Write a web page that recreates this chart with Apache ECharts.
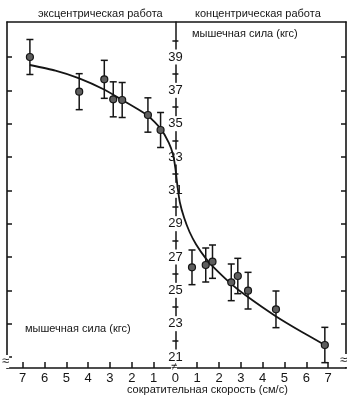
<!DOCTYPE html>
<html>
<head>
<meta charset="utf-8">
<style>
    html, body { margin: 0; padding: 0; background: #fff; }
    #chart { width: 354px; height: 401px; }
</style>
<script src="https://cdn.jsdelivr.net/npm/echarts@6/dist/echarts.min.js"></script>
</head>
<body>
<div id="chart"></div>
<script>
    // eccentric work (negative speed, drawn on the left)
    const eccSpeed = [-6.67, -4.41, -3.26, -2.85, -2.44, -1.26, -0.68];
    const eccForce = [39.0, 36.92, 37.66, 36.46, 36.42, 35.52, 34.62];
    const eccErr = [1.05, 1.08, 1.14, 1.05, 1.05, 1.03, 1.05];

    // concentric work
    const conSpeed = [0.76, 1.39, 1.70, 2.56, 2.86, 3.33, 4.61, 6.85];
    const conForce = [26.38, 26.52, 26.72, 25.48, 25.86, 24.98, 23.86, 21.72];
    const conErr = [1.04, 1.02, 1.0, 1.1, 1.06, 1.1, 1.1, 1.06];

    // fitted curve
    const curveSpeed = [-6.67, -5.5, -4.41, -3.27, -2.44, -1.26, -0.68, -0.3, -0.1, 0, 0.1, 0.2, 0.4, 0.65, 0.95, 1.4, 1.7, 2.5, 3.2, 4.6, 5.8, 6.85];
    const curveForce = [38.52, 38.18, 37.72, 37.05, 36.42, 35.48, 34.7, 33.85, 33.1, 32.3, 31.2, 30.3, 29.35, 28.5, 27.75, 26.9, 26.45, 25.45, 24.72, 23.45, 22.5, 21.72];

    const speedTicks = [-7, -6, -5, -4, -3, -2, -1, 0, 1, 2, 3, 4, 5, 6, 7];
    const forceLabels = [21, 23, 25, 27, 29, 31, 33, 35, 37, 39];
    const forceMinorTicks = [22, 24, 26, 28, 30, 32, 34, 36, 38, 40];

    const myChart = echarts.init(document.getElementById('chart'), null, { renderer: 'canvas' });

    const points = [];
    const bars = [];
    eccSpeed.forEach((x, i) => {
        points.push([x, eccForce[i]]);
        bars.push([x, eccForce[i] - eccErr[i], eccForce[i] + eccErr[i]]);
    });
    conSpeed.forEach((x, i) => {
        points.push([x, conForce[i]]);
        bars.push([x, conForce[i] - conErr[i], conForce[i] + conErr[i]]);
    });
    const curve = curveSpeed.map((x, i) => [x, curveForce[i]]);

    const ink = '#151515';
    const font = 'Liberation Sans, Arial, sans-serif';
    const gridLeft = 7;
    const frameAxis = {
        type: 'value',
        min: 20.34,
        max: 41.1,
        axisLine: { show: true, onZero: false, lineStyle: { color: ink, width: 1.6 } },
        axisTick: { show: true, inside: true, length: 5, customValues: forceLabels, lineStyle: { color: ink, width: 1.5 } },
        axisLabel: { show: false },
        splitLine: { show: false }
    };

    const chartOption = {
        animation: false,
        backgroundColor: '#fff',
        grid: { left: gridLeft, right: 8, top: 22, bottom: 33, outerBoundsMode: 'none' },
        xAxis: [
            {
                type: 'value',
                min: -7.72,
                max: 7.82,
                position: 'bottom',
                axisLine: { onZero: false, lineStyle: { color: ink, width: 1.6 } },
                axisTick: { inside: true, length: 6, customValues: speedTicks, lineStyle: { color: ink, width: 1.5 } },
                axisLabel: {
                    customValues: speedTicks,
                    formatter: v => String(Math.abs(v)),
                    color: ink,
                    fontSize: 13,
                    fontFamily: font,
                    margin: 4
                },
                splitLine: { show: false }
            },
            {
                type: 'value',
                min: -7.72,
                max: 7.82,
                position: 'top',
                axisLine: { onZero: false, lineStyle: { color: ink, width: 1.6 } },
                axisTick: { show: false },
                axisLabel: { show: false },
                splitLine: { show: false }
            }
        ],
        yAxis: [
            Object.assign({}, frameAxis, { position: 'left' }),
            Object.assign({}, frameAxis, { position: 'right' }),
            {
                // middle axis, moved onto speed = 0 below
                type: 'value',
                min: 20.34,
                max: 41.1,
                position: 'left',
                axisLine: { show: true, onZero: false, lineStyle: { color: ink, width: 1.5 } },
                axisTick: { show: true, inside: true, length: 3, customValues: forceMinorTicks, lineStyle: { color: ink, width: 1.5 } },
                axisLabel: {
                    customValues: forceLabels,
                    align: 'center',
                    margin: 0,
                    color: ink,
                    fontSize: 13,
                    fontFamily: font,
                    backgroundColor: '#fff',
                    padding: [1, 0, 1, 0]
                },
                splitLine: { show: false }
            },
            {
                type: 'value',
                min: 20.34,
                max: 41.1,
                position: 'left',
                axisLine: { show: false, onZero: false },
                axisTick: { show: true, inside: false, length: 3, customValues: forceMinorTicks, lineStyle: { color: ink, width: 1.5 } },
                axisLabel: { show: false },
                splitLine: { show: false }
            }
        ],
        graphic: [
            { type: 'text', left: 38, top: 8, style: { text: 'эксцентрическая работа', fontSize: 11, fontFamily: font, fill: ink } },
            { type: 'text', left: 195, top: 8, style: { text: 'концентрическая работа', fontSize: 11, fontFamily: font, fill: ink } },
            { type: 'text', left: 192, top: 28, style: { text: 'мышечная сила (кгс)', fontSize: 11, fontFamily: font, fill: ink } },
            { type: 'text', left: 25, top: 323, style: { text: 'мышечная сила (кгс)', fontSize: 11, fontFamily: font, fill: ink } },
            { type: 'text', left: 127, top: 384, style: { text: 'сократительная скорость (см/с)', fontSize: 11, fontFamily: font, fill: ink } },
            // axis break marks
            { type: 'text', left: 2, top: 355, z: 10, style: { text: '≈', fontSize: 13, fontFamily: font, fill: ink, backgroundColor: '#fff' } },
            { type: 'text', left: 171, top: 361, z: 10, style: { text: '≠', fontSize: 11, fontFamily: font, fill: ink, backgroundColor: '#fff' } },
            { type: 'text', left: 340, top: 354, z: 10, style: { text: '≈', fontSize: 13, fontFamily: font, fill: ink, backgroundColor: '#fff' } }
        ],
        series: [
            {
                name: 'curve',
                type: 'line',
                data: curve,
                smooth: 0.2,
                showSymbol: false,
                lineStyle: { color: ink, width: 1.8 },
                z: 2
            },
            {
                name: 'error',
                type: 'custom',
                data: bars,
                encode: { x: 0, y: [1, 2] },
                renderItem(params, api) {
                    const x = api.value(0);
                    const top = api.coord([x, api.value(2)]);
                    const bot = api.coord([x, api.value(1)]);
                    const w = 3.5;
                    const style = { stroke: ink, lineWidth: 1.5 };
                    return {
                        type: 'group',
                        children: [
                            { type: 'line', shape: { x1: top[0], y1: top[1], x2: bot[0], y2: bot[1] }, style },
                            { type: 'line', shape: { x1: top[0] - w, y1: top[1], x2: top[0] + w, y2: top[1] }, style },
                            { type: 'line', shape: { x1: bot[0] - w, y1: bot[1], x2: bot[0] + w, y2: bot[1] }, style }
                        ]
                    };
                },
                z: 3
            },
            {
                name: 'points',
                type: 'scatter',
                data: points,
                symbol: 'circle',
                symbolSize: 7,
                itemStyle: { color: '#5e5e5e', borderColor: ink, borderWidth: 1.2, opacity: 1 },
                z: 4
            }
        ]
    };
    myChart.setOption(chartOption);

    // put the labelled middle axis on speed = 0
    const zeroX = myChart.convertToPixel({ xAxisIndex: 0 }, 0);
    const shift = -(zeroX - gridLeft);
    myChart.setOption({ yAxis: [{}, {}, { offset: shift }, { offset: shift }] });
</script>
</body>
</html>
